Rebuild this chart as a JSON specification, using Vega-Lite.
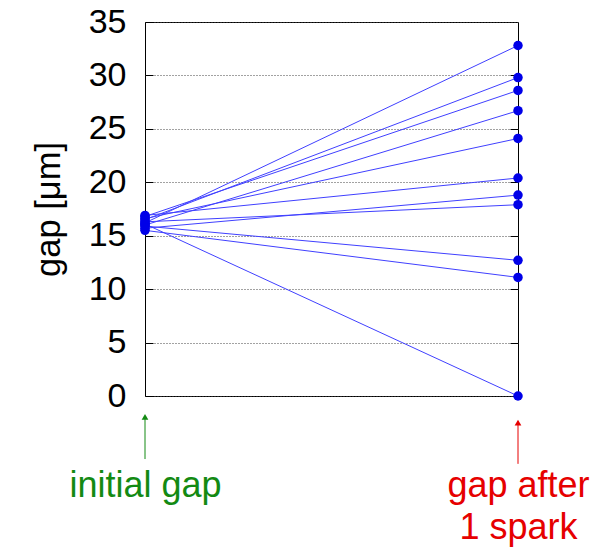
{
  "$schema": "https://vega.github.io/schema/vega-lite/v6.json",
  "width": 373,
  "height": 374,
  "autosize": {"type": "none"},
  "padding": {"left": 145, "top": 22, "right": 82, "bottom": 152},
  "background": "white",
  "config": {
    "font": "Liberation Sans",
    "view": {"stroke": "black", "strokeWidth": 1}
  },
  "datasets": {
    "gaps": [
      {"id": 1, "stage": 0, "gap": 16.2}, {"id": 1, "stage": 1, "gap": 32.8},
      {"id": 2, "stage": 0, "gap": 16.5}, {"id": 2, "stage": 1, "gap": 29.8},
      {"id": 3, "stage": 0, "gap": 16.8}, {"id": 3, "stage": 1, "gap": 28.6},
      {"id": 4, "stage": 0, "gap": 16.0}, {"id": 4, "stage": 1, "gap": 26.7},
      {"id": 5, "stage": 0, "gap": 16.6}, {"id": 5, "stage": 1, "gap": 24.1},
      {"id": 6, "stage": 0, "gap": 16.9}, {"id": 6, "stage": 1, "gap": 20.4},
      {"id": 7, "stage": 0, "gap": 15.7}, {"id": 7, "stage": 1, "gap": 18.8},
      {"id": 8, "stage": 0, "gap": 16.3}, {"id": 8, "stage": 1, "gap": 17.9},
      {"id": 9, "stage": 0, "gap": 15.9}, {"id": 9, "stage": 1, "gap": 12.7},
      {"id": 10, "stage": 0, "gap": 15.5}, {"id": 10, "stage": 1, "gap": 11.1},
      {"id": 11, "stage": 0, "gap": 16.1}, {"id": 11, "stage": 1, "gap": 0.0}
    ],
    "arrows": [
      {"stage": 0, "head": -1.95, "tail": -5.9, "which": "initial"},
      {"stage": 1, "head": -2.5, "tail": -6.35, "which": "after"}
    ]
  },
  "resolve": {"axis": {"y": "independent"}},
  "layer": [
    {
      "data": {"name": "gaps"},
      "mark": {"type": "line", "color": "#4040ff", "strokeWidth": 1},
      "encoding": {
        "x": {
          "field": "stage", "type": "quantitative",
          "scale": {"domain": [0, 1], "nice": false, "zero": false},
          "axis": {
            "values": [0, 1],
            "title": null,
            "grid": false,
            "ticks": false,
            "domain": false,
            "labelFontSize": 36,
            "labelPadding": 72,
            "labelBaseline": "top",
            "labelLineHeight": 42,
            "labelFlush": false,
            "labelOverlap": false,
            "labelExpr": "datum.value == 0 ? 'initial gap' : ['gap after', '1 spark']",
            "labelColor": {"condition": {"test": "datum.value == 0", "value": "#138a13"}, "value": "#e60000"}
          }
        },
        "y": {
          "field": "gap", "type": "quantitative",
          "scale": {"domain": [0, 35], "nice": false},
          "axis": {
            "orient": "left",
            "offset": -8,
            "values": [0, 5, 10, 15, 20, 25, 30, 35],
            "title": "gap [μm]",
            "titleFontSize": 34.5,
            "titleFontWeight": "normal",
            "titleColor": "black",
            "titlePadding": 22,
            "labelFontSize": 34,
            "labelColor": "black",
            "labelPadding": 19,
            "tickSize": 8,
            "tickColor": "black",
            "domain": false,
            "grid": true,
            "gridColor": "#444444",
            "gridDash": [1, 2],
            "gridWidth": 1
          }
        },
        "detail": {"field": "id", "type": "nominal"}
      }
    },
    {
      "data": {"name": "gaps"},
      "mark": {"type": "circle", "color": "#0000e8", "size": 90, "opacity": 1},
      "encoding": {
        "x": {"field": "stage", "type": "quantitative"},
        "y": {
          "field": "gap", "type": "quantitative",
          "axis": {
            "orient": "right",
            "offset": -8,
            "values": [5, 10, 15, 20, 25, 30],
            "labels": false,
            "title": null,
            "grid": false,
            "domain": false,
            "tickSize": 8,
            "tickColor": "black"
          }
        }
      }
    },
    {
      "data": {"name": "arrows"},
      "mark": {"type": "rule", "strokeWidth": 1, "clip": false},
      "encoding": {
        "x": {"field": "stage", "type": "quantitative"},
        "y": {"field": "head", "type": "quantitative", "axis": null},
        "y2": {"field": "tail"},
        "color": {"field": "which", "type": "nominal", "scale": {"domain": ["initial", "after"], "range": ["#138a13", "#e60000"]}, "legend": null}
      }
    },
    {
      "data": {"name": "arrows"},
      "mark": {"type": "point", "shape": "triangle-up", "filled": true, "size": 45, "opacity": 1, "clip": false},
      "encoding": {
        "x": {"field": "stage", "type": "quantitative"},
        "y": {"field": "head", "type": "quantitative", "axis": null},
        "color": {"field": "which", "type": "nominal", "scale": {"domain": ["initial", "after"], "range": ["#138a13", "#e60000"]}, "legend": null}
      }
    }
  ]
}
